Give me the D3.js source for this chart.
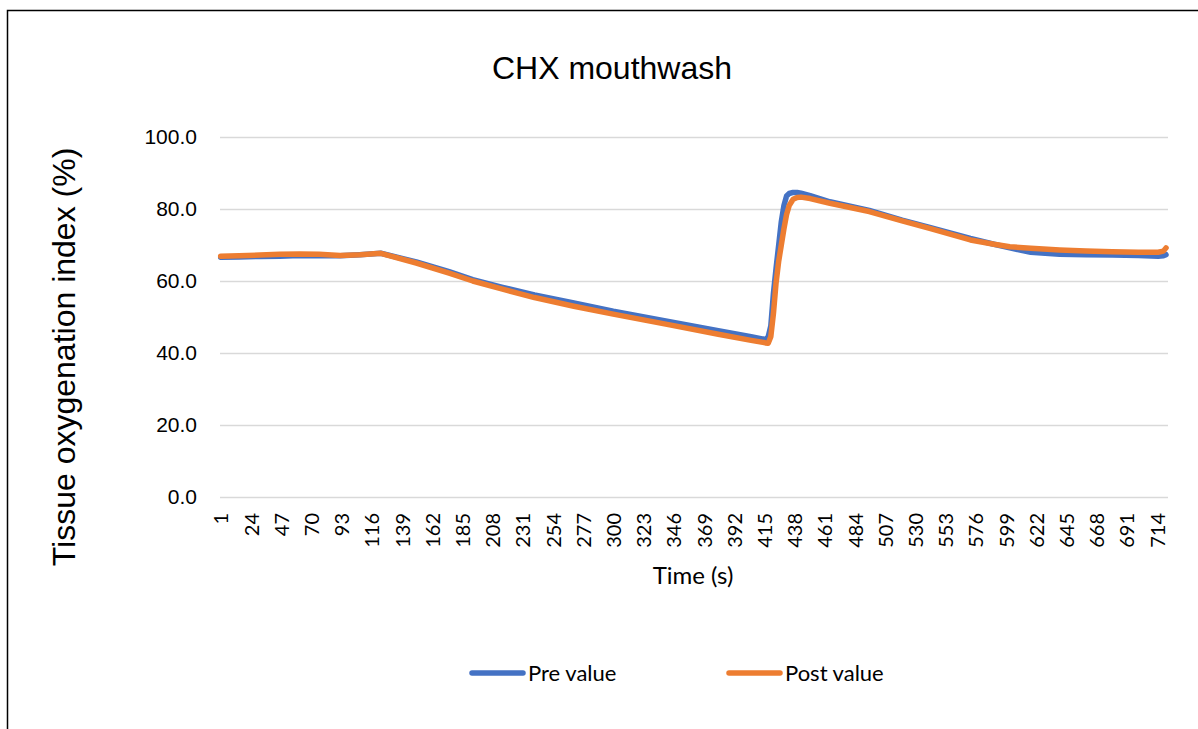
<!DOCTYPE html>
<html>
<head>
<meta charset="utf-8">
<script src="https://cdn.jsdelivr.net/npm/d3@7"></script>
<style>
  body { margin: 0; background: #fff; }
  svg { display: block; }
</style>
</head>
<body>
<div id="chart"></div>
<script>
// values
const times = [1, 15, 31, 46, 61, 76, 92, 107, 123, 150, 175, 193, 215, 240, 270, 300, 343, 380, 405,
  415, 416, 418, 420, 422, 424, 426, 428, 430, 432, 434, 437, 440, 443, 450, 465, 495, 520, 541, 572,
  590, 602, 618, 640, 660, 680, 700, 715, 719, 721];
const preValue = [66.6, 66.7, 66.8, 66.9, 67.1, 67.0, 67.0, 67.3, 67.7,
  65.3, 62.6, 60.4, 58.3, 56.1, 53.9, 51.6, 48.7, 46.2, 44.5,
  43.8, 43.7, 44.5, 47.5, 56.6, 63.5, 70.0, 76.5, 81.0, 83.6,
  84.3, 84.6, 84.6, 84.4, 83.7, 82.0, 79.6, 76.9, 74.9, 71.8,
  70.2, 69.2, 68.0, 67.4, 67.3, 67.2, 67.1, 66.9, 67.0, 67.3];
const postValue = [66.9, 67.0, 67.2, 67.4, 67.5, 67.4, 67.1, 67.3, 67.7,
  65.0, 62.2, 60.0, 57.8, 55.4, 53.0, 50.8, 47.8, 45.2, 43.5,
  42.9, 42.8, 42.7, 44.5, 51.0, 59.5, 65.5, 70.0, 74.5, 78.5,
  81.0, 82.7, 83.2, 83.3, 82.9, 81.6, 79.3, 76.7, 74.6, 71.4,
  70.2, 69.5, 69.1, 68.6, 68.3, 68.1, 68.0, 68.0, 68.3, 69.2];
const xTickLabels = [1, 24, 47, 70, 93, 116, 139, 162, 185, 208, 231, 254, 277, 300, 323, 346, 369,
  392, 415, 438, 461, 484, 507, 530, 553, 576, 599, 622, 645, 668, 691, 714];
const yTicks = [0, 20, 40, 60, 80, 100];
const seriesNames = ['Pre value', 'Post value'];
const colors = ['#4472C4', '#ED7D31'];
const nCategories = 722;

const width = 1198;
const height = 729;
const margin = { left: 220, right: 30, top: 137, bottom: 232 };
const plotW = width - margin.left - margin.right;
const plotH = height - margin.top - margin.bottom;

const svg = d3.select('#chart')
  .append('svg')
  .attr('width', width)
  .attr('height', height);

// outer chart border
svg.append('rect')
  .attr('x', 7.5)
  .attr('y', 10.5)
  .attr('width', width + 20)
  .attr('height', height + 20)
  .attr('fill', 'none')
  .attr('stroke', '#000')
  .attr('stroke-width', 1.5);

const x = d3.scaleLinear()
  .domain([0.5, nCategories + 0.5])
  .range([0, plotW]);

const y = d3.scaleLinear()
  .domain([0, 100])
  .range([plotH, 0]);

const g = svg.append('g')
  .attr('transform', `translate(${margin.left},${margin.top})`);

// y axis with gridlines
const yAxis = g.append('g')
  .call(d3.axisLeft(y)
    .tickValues(yTicks)
    .tickSize(-plotW)
    .tickPadding(23)
    .tickFormat(d => d.toFixed(1)));
yAxis.select('.domain').remove();
yAxis.selectAll('line')
  .attr('stroke', '#d9d9d9')
  .attr('stroke-width', 1.5);
yAxis.selectAll('text')
  .attr('font-family', '"Liberation Sans", Arial, sans-serif')
  .attr('font-size', 21)
  .attr('fill', '#000');

// x axis (category labels, rotated)
const xAxis = g.append('g')
  .attr('transform', `translate(0,${plotH})`)
  .call(d3.axisBottom(x)
    .tickValues(xTickLabels)
    .tickSize(0)
    .tickFormat(d => d));
xAxis.select('.domain').remove();
xAxis.selectAll('text')
  .attr('transform', 'rotate(-90)')
  .attr('x', -16)
  .attr('y', 0)
  .attr('dy', '0.36em')
  .style('text-anchor', 'end')
  .attr('font-family', 'Lato, sans-serif')
  .attr('font-size', 20)
  .attr('fill', '#000');

// lines
const line = d3.line()
  .x((d, i) => x(times[i]))
  .y(d => y(d));

[preValue, postValue].forEach((vals, k) => {
  g.append('path')
    .datum(vals)
    .attr('d', line)
    .attr('fill', 'none')
    .attr('stroke', colors[k])
    .attr('stroke-width', 5.5)
    .attr('stroke-linejoin', 'round')
    .attr('stroke-linecap', 'round');
});

// title
svg.append('text')
  .attr('x', 612)
  .attr('y', 79)
  .attr('text-anchor', 'middle')
  .attr('font-family', '"Liberation Sans", Arial, sans-serif')
  .attr('font-size', 32)
  .text('CHX mouthwash');

// axis titles
svg.append('text')
  .attr('transform', 'translate(75,357) rotate(-90)')
  .attr('text-anchor', 'middle')
  .attr('font-family', '"Liberation Sans", Arial, sans-serif')
  .attr('font-size', 32)
  .text('Tissue oxygenation index (%)');

svg.append('text')
  .attr('x', 693)
  .attr('y', 584)
  .attr('text-anchor', 'middle')
  .attr('font-family', 'Lato, sans-serif')
  .attr('font-size', 24)
  .text('Time (s)');

// legend
const legendX = [470, 727];
seriesNames.forEach((name, k) => {
  const lg = svg.append('g').attr('transform', `translate(${legendX[k]},673)`);
  lg.append('line')
    .attr('x1', 2).attr('x2', 53)
    .attr('y1', 0).attr('y2', 0)
    .attr('stroke', colors[k])
    .attr('stroke-width', 5.5)
    .attr('stroke-linecap', 'round');
  lg.append('text')
    .attr('x', 58)
    .attr('y', 8)
    .attr('font-family', 'Lato, sans-serif')
    .attr('font-size', 22)
    .text(name);
});
</script>
</body>
</html>
